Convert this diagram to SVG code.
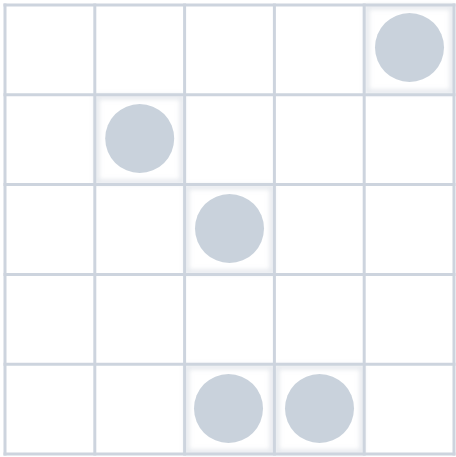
<svg xmlns="http://www.w3.org/2000/svg" width="456" height="457" viewBox="0 0 456 457">
  <defs>
    <style>
      .grid line { stroke: #cdd4de; stroke-width: 3; }
      .dot { fill: #c9d2dc; }
      .glow { fill: none; stroke: #e6e9ee; stroke-width: 5; filter: url(#soft); }
    </style>
    <filter id="soft" x="-10%" y="-10%" width="120%" height="120%">
      <feGaussianBlur stdDeviation="2"/>
    </filter>
  </defs>
  <rect width="456" height="457" fill="#ffffff"/>
  <g id="cell-glows">
    <rect class="glow" x="367" y="7" width="85" height="85"/>
    <rect class="glow" x="97" y="97" width="85" height="85"/>
    <rect class="glow" x="187" y="187" width="85" height="85"/>
    <rect class="glow" x="187" y="367" width="85" height="85"/>
    <rect class="glow" x="277" y="367" width="85" height="85"/>
  </g>
  <g id="grid" class="grid">
    <line x1="5" y1="3.5" x2="5" y2="455.5"/>
    <line x1="94.8" y1="3.5" x2="94.8" y2="455.5"/>
    <line x1="184.6" y1="3.5" x2="184.6" y2="455.5"/>
    <line x1="274.4" y1="3.5" x2="274.4" y2="455.5"/>
    <line x1="364.2" y1="3.5" x2="364.2" y2="455.5"/>
    <line x1="454" y1="3.5" x2="454" y2="455.5"/>
    <line x1="3.5" y1="5" x2="455.5" y2="5"/>
    <line x1="3.5" y1="94.8" x2="455.5" y2="94.8"/>
    <line x1="3.5" y1="184.6" x2="455.5" y2="184.6"/>
    <line x1="3.5" y1="274.4" x2="455.5" y2="274.4"/>
    <line x1="3.5" y1="364.2" x2="455.5" y2="364.2"/>
    <line x1="3.5" y1="454" x2="455.5" y2="454"/>
  </g>
  <g id="dot-r0c4"><circle class="dot" cx="409.5" cy="47.5" r="34.5"/></g>
  <g id="dot-r1c1"><circle class="dot" cx="139.7" cy="138.5" r="34.5"/></g>
  <g id="dot-r2c2"><circle class="dot" cx="229.5" cy="228.5" r="34.5"/></g>
  <g id="dot-r4c2"><circle class="dot" cx="228.5" cy="408.5" r="34.5"/></g>
  <g id="dot-r4c3"><circle class="dot" cx="319.5" cy="408.5" r="34.5"/></g>
</svg>
